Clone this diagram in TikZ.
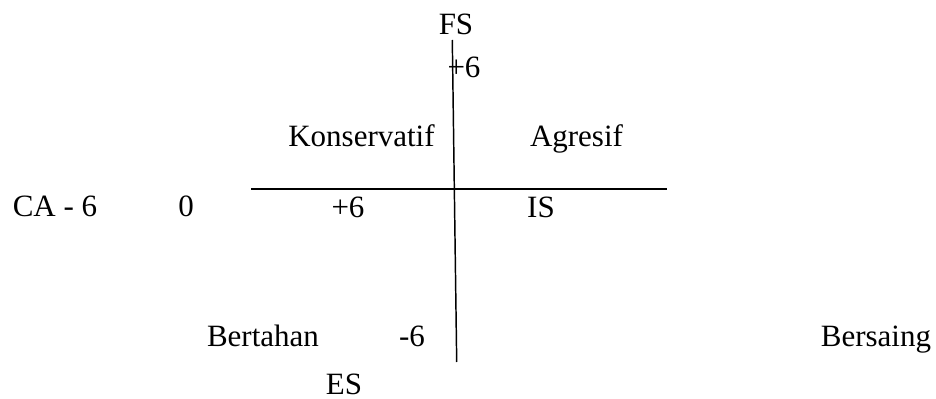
\documentclass[tikz,border=0pt]{standalone}
\usepackage{fontspec}
\setmainfont{Liberation Serif}
\usetikzlibrary{positioning}

\begin{document}
\begin{tikzpicture}[x=0.75pt, y=-0.75pt,
        lbl/.style={anchor=base, inner sep=0pt, font=\fontsize{23.25}{28}\selectfont},
        axis/.style={line width=1.1pt}]
        \useasboundingbox (0,0) rectangle (936,399);

        % sumbu
        \coordinate (fsEnd) at (452.3,40);
        \coordinate (esEnd) at (456.7,362);
        \coordinate (caEnd) at (251,189);
        \coordinate (isEnd) at (667,189);
        \draw[axis] (fsEnd) -- (esEnd);
        \draw[axis] (caEnd) -- (isEnd);

        % label sumbu
        \node[lbl] (fs) at (456,35) {FS};
        \node[lbl] (fsVal) at (464,78) {+6};
        \node[lbl] (ca) at (55,217) {CA - 6};
        \node[lbl] (zero) at (186,217) {0};
        \node[lbl] (isVal) at (348,218) {+6};
        \node[lbl] (is) at (541,218) {IS};
        \node[lbl] (esVal) at (412,346) {-6};
        \node[lbl] (es) at (344,394) {ES};

        % kuadran
        \node[lbl] (konservatif) at (361.5,147) {Konservatif};
        \node[lbl] (agresif) at (576.5,147) {Agresif};
        \node[lbl] (bertahan) at (263,346) {Bertahan};
        \node[lbl] (bersaing) at (876,346) {Bersaing};
    \end{tikzpicture}
\end{document}
